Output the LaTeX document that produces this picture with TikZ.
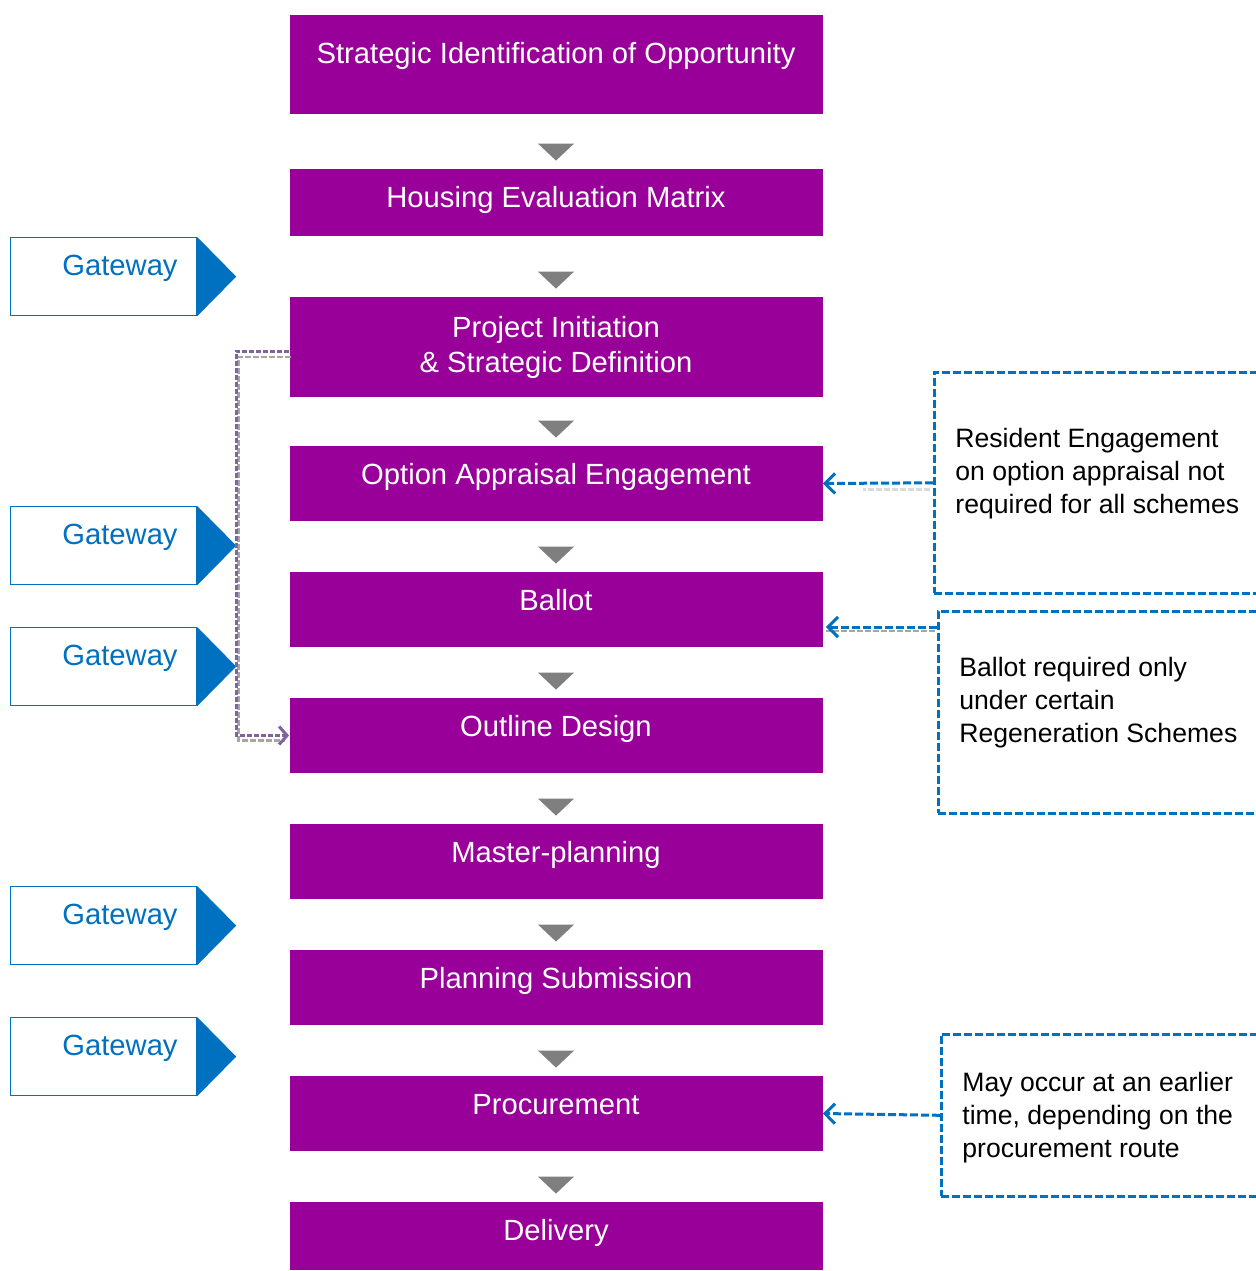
\documentclass[tikz,border=0pt]{standalone}
\usepackage{fontspec}
\setmainfont{Liberation Sans}
\usetikzlibrary{calc, arrows.meta}
\definecolor{stagepurple}{HTML}{990099}
\definecolor{gateblue}{HTML}{0070C0}
\definecolor{linkpurple}{HTML}{8064A2}
\definecolor{tipgray}{HTML}{7F7F7F}
\definecolor{shadowgray}{HTML}{A6A6A6}

\begin{document}
\begin{tikzpicture}[x=0.5pt, y=-0.5pt,
  stage/.style={fill=stagepurple, text=white, minimum width=266.5pt, inner sep=0pt,
    font=\fontsize{14.6}{17.5}\selectfont, text height=19.25pt, text depth=18.25pt},
  gate/.style={draw=gateblue, line width=0.6pt, fill=white, text=gateblue, anchor=north west,
    inner xsep=9.5pt, inner ysep=0pt, text width=74pt, align=right,
    text height=18.75pt, text depth=20.25pt, font=\fontsize{14.6}{17.5}\selectfont},
  notebox/.style={draw=gateblue, line width=1.3pt, dash pattern=on 4pt off 1.5pt, anchor=north west, inner sep=0pt},
  notetext/.style={anchor=base west, align=left, inner sep=0pt, font=\fontsize{13.3}{16.5}\selectfont},
  notelink/.style={draw=gateblue, line width=1.5pt, dash pattern=on 4pt off 1.5pt, -{Straight Barb[length=5pt,width=10pt]}},
  linkshadow/.style={draw=shadowgray, line width=1.4pt, dash pattern=on 3pt off 1pt},
  phaselink/.style={draw=linkpurple, line width=1.5pt, dash pattern=on 2.5pt off 1pt, -{Straight Barb[length=4pt,width=9pt]}}]
  \useasboundingbox (0,0) rectangle (1256,1271);
  \clip (0,0) rectangle (1256,1271);

  % stages
  \node[stage, text height=24.25pt, text depth=25.25pt] (s1) at (556,64.5) {Strategic Identification of Opportunity};
  \node[stage, text depth=14.25pt] (s2) at (556,202.5) {Housing Evaluation Matrix};
  \node[stage, text height={}, text depth={}, minimum height=50pt, align=center] (s3) at (556,347) {Project Initiation\\\& Strategic Definition};
  \node[stage] (s4) at (556,483.5) {Option Appraisal Engagement};
  \node[stage] (s5) at (556,609.5) {Ballot};
  \node[stage] (s6) at (556,735.5) {Outline Design};
  \node[stage] (s7) at (556,861.5) {Master-planning};
  \node[stage] (s8) at (556,987.5) {Planning Submission};
  \node[stage] (s9) at (556,1113.5) {Procurement};
  \node[stage, text depth=14.75pt] (s10) at (556,1236) {Delivery};

  % down markers between stages
  \foreach \b in {s2,s3,s4,s5,s6,s7,s8,s9,s10}
    \fill[tipgray] ($(\b.north)+(0,-8)$) -- ++(-18,-17) -- ++(36,0) -- cycle;

  % gateways
  \foreach \y [count=\i] in {237,506,627,886,1017} {
    \node[gate] (g\i) at (10,\y) {Gateway};
    \fill[gateblue] (g\i.north east) -- ($(g\i.east)+(39,0)$) -- (g\i.south east) -- cycle;
  }

  % link from initiation to outline design
  \draw[linkshadow] ($(s3.west)+(2,10)$) -- ++(-53,0) |- ($(s6.west)+(-4,5)$);
  \draw[phaselink] ($(s3.west)+(0,4)$) -- ++(-53,0) |- (s6.west);

  % notes (text baseline is on the last line)
  \node[notebox, minimum width=166pt, minimum height=110.5pt] (n1) at (933,371) {};
  \node[notetext] (t1) at (955,513) {Resident Engagement\\on option appraisal not\\required for all schemes};
  \node[notebox, minimum width=164pt, minimum height=101pt] (n2) at (937,610) {};
  \node[notetext] (t2) at (959,742) {Ballot required only\\under certain\\Regeneration Schemes};
  \node[notebox, minimum width=162.5pt, minimum height=81pt] (n3) at (940,1033) {};
  \node[notetext] (t3) at (962,1157) {May occur at an earlier\\time, depending on the\\procurement route};

  % note links
  \draw[linkshadow, draw=shadowgray!40] ($(n1.west)+(-3,6.5)$) -- ++(-67,0);
  \draw[linkshadow] ($(n2.north west)+(-2,21)$) -- ($(s5.east |- n2.north west)+(3,21)$);
  \draw[notelink] (n1.west) -- (s4.east);
  \draw[notelink] ($(n2.north west)+(0,17)$) -- ($(s5.east |- n2.north west)+(3,17)$);
  \draw[notelink] (n3.west) -- (s9.east);
\end{tikzpicture}
\end{document}
